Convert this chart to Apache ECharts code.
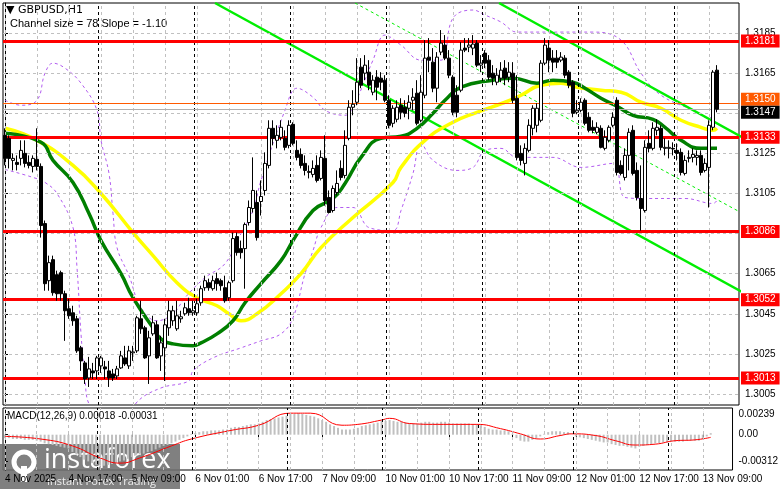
<!DOCTYPE html>
<html><head><meta charset="utf-8">
<script src="https://cdn.jsdelivr.net/npm/echarts@6/dist/echarts.min.js"></script>
<style>html,body{margin:0;padding:0;background:#fff}#c{width:781px;height:489px}</style>
</head><body><div id="c"></div>
<script>
const tickLabels = ["4 Nov 2025","4 Nov 17:00","5 Nov 09:00","6 Nov 01:00","6 Nov 17:00","7 Nov 09:00","10 Nov 01:00","10 Nov 17:00","11 Nov 09:00","12 Nov 01:00","12 Nov 17:00","13 Nov 09:00"];
const priceTicks = [1.3005,1.3025,1.3045,1.3065,1.3085,1.3105,1.3125,1.3145,1.3165,1.3185];
const macdTicks = [0.00239, 0, -0.00312];
const levels = [1.3181,1.3133,1.3086,1.3052,1.3013];
const orangeLevel = 1.3150;
const lastPrice = 1.3147;
// [open, close, low, high]
const candles = [
[1.3134,1.31225,1.3119,1.31375],[1.31325,1.31225,1.31175,1.3134],[1.31215,1.31225,1.31165,1.3125],[1.31205,1.31195,1.31165,1.3124],
[1.31225,1.31265,1.3119,1.31315],[1.3125,1.312,1.3118,1.31315],[1.31205,1.3119,1.31175,1.3124],[1.31185,1.31225,1.31155,1.3124],
[1.3122,1.31185,1.31165,1.31375],[1.31185,1.3089,1.3083,1.312],[1.309,1.306,1.30565,1.30915],[1.30615,1.30705,1.30565,1.3074],
[1.3072,1.30555,1.3054,1.3074],[1.30645,1.3055,1.30515,1.30665],[1.30655,1.3055,1.30515,1.30665],[1.3055,1.30465,1.30315,1.30565],
[1.30475,1.3044,1.30425,1.30525],[1.30455,1.30415,1.3039,1.3049],[1.30425,1.30265,1.30255,1.3044],[1.3028,1.30215,1.30165,1.3029],
[1.30205,1.30125,1.301,1.30215],[1.3013,1.30175,1.30085,1.30235],[1.30165,1.30155,1.30125,1.30205],[1.30165,1.3023,1.30125,1.3024],
[1.3019,1.3023,1.30155,1.3024],[1.30185,1.30175,1.30125,1.30215],[1.30165,1.3013,1.30085,1.30215],[1.3015,1.3013,1.30115,1.30175],
[1.3014,1.30175,1.30125,1.3019],[1.3018,1.3024,1.30175,1.30265],[1.3023,1.302,1.3019,1.3029],[1.3019,1.30265,1.30175,1.3029],
[1.30255,1.3026,1.30215,1.3029],[1.30265,1.3043,1.30255,1.3044],[1.30425,1.30375,1.3035,1.30515],[1.3038,1.3023,1.30225,1.3039],
[1.3024,1.3033,1.301,1.30365],[1.3035,1.30405,1.3034,1.3044],[1.30395,1.3023,1.30225,1.30415],[1.3024,1.30305,1.30165,1.3034],
[1.3028,1.30395,1.30115,1.30425],[1.3038,1.30465,1.3034,1.30515],[1.30415,1.30465,1.3039,1.3049],[1.30375,1.3044,1.30365,1.30515],
[1.30425,1.30435,1.30405,1.30465],[1.3045,1.3048,1.3044,1.30505],[1.30475,1.30455,1.3044,1.3053],[1.30455,1.30465,1.3044,1.30515],
[1.30455,1.305,1.3044,1.30525],[1.30505,1.30575,1.3049,1.3059],[1.3058,1.30615,1.30565,1.3064],[1.30605,1.3058,1.30565,1.30625],
[1.30575,1.30615,1.30565,1.3064],[1.30625,1.306,1.30565,1.30655],[1.30615,1.3059,1.30565,1.30625],[1.3058,1.30515,1.30505,1.3064],
[1.3053,1.30605,1.30515,1.30615],[1.30615,1.30825,1.30605,1.30855],[1.30835,1.30755,1.3074,1.30855],[1.30775,1.30755,1.30725,1.30815],
[1.30775,1.30895,1.30575,1.30905],[1.30905,1.3098,1.3089,1.31015],[1.30975,1.31065,1.30955,1.3123],[1.31005,1.3083,1.30815,1.31065],
[1.3101,1.31035,1.3094,1.31115],[1.31065,1.312,1.3104,1.31255],[1.3119,1.31375,1.31175,1.31415],[1.31375,1.31325,1.3129,1.31415],
[1.31315,1.3134,1.31275,1.3139],[1.3133,1.3138,1.31315,1.31415],[1.31325,1.3128,1.31265,1.31365],[1.3129,1.3139,1.31275,1.31415],
[1.31395,1.313,1.3129,1.31405],[1.31265,1.3123,1.31215,1.31315],[1.31245,1.3119,1.31175,1.31275],[1.312,1.31165,1.3114,1.3124],
[1.31155,1.3116,1.31125,1.3119],[1.31145,1.31175,1.3113,1.31215],[1.3119,1.31115,1.31105,1.3124],[1.31125,1.3123,1.31115,1.31265],
[1.31225,1.31015,1.3099,1.3134],[1.3103,1.30955,1.3095,1.31065],[1.30965,1.31075,1.30955,1.3109],[1.31055,1.311,1.3104,1.31165],
[1.31175,1.3113,1.31115,1.31215],[1.3114,1.3129,1.31125,1.31365],[1.31325,1.3148,1.31315,1.31515],[1.3148,1.31495,1.3144,1.31565],
[1.31505,1.31605,1.3149,1.31725],[1.3168,1.3159,1.31575,1.31725],[1.3165,1.3169,1.31615,1.3174],[1.31655,1.3159,1.31565,1.31715],
[1.31555,1.31615,1.3154,1.3164],[1.3163,1.3158,1.31515,1.31665],[1.31625,1.31605,1.31565,1.31655],[1.31615,1.31515,1.31505,1.3164],
[1.31515,1.3139,1.31375,1.3154],[1.314,1.31475,1.3138,1.3149],[1.3142,1.3148,1.31405,1.31515],[1.3149,1.31455,1.3142,1.31525],
[1.3148,1.3145,1.3143,1.31515],[1.31475,1.31505,1.3142,1.3154],[1.31515,1.3153,1.31465,1.31575],[1.3155,1.314,1.3139,1.31615],
[1.31415,1.31555,1.31405,1.3164],[1.3154,1.31725,1.31525,1.31815],[1.3173,1.31715,1.31655,1.31825],[1.31705,1.31575,1.31555,1.31775],
[1.31575,1.3173,1.31505,1.31755],[1.31755,1.318,1.3174,1.31865],[1.3179,1.31725,1.31715,1.3184],[1.31725,1.3164,1.31625,1.31765],
[1.3163,1.31455,1.3144,1.3164],[1.3154,1.31455,1.3143,1.3159],[1.31565,1.31765,1.31555,1.31805],[1.31775,1.31765,1.31755,1.31825],
[1.3178,1.3179,1.31755,1.31825],[1.31775,1.31795,1.3174,1.3184],[1.318,1.3169,1.3168,1.31815],[1.3169,1.317,1.31655,1.3174],
[1.3175,1.317,1.31675,1.31765],[1.31715,1.3163,1.31615,1.3174],[1.3165,1.31625,1.3159,1.3169],[1.31605,1.3164,1.3159,1.31675],
[1.31625,1.31665,1.31605,1.31705],[1.31675,1.31625,1.3159,1.31715],[1.3163,1.31655,1.31605,1.31705],[1.3165,1.31515,1.315,1.31705],
[1.31525,1.3123,1.31215,1.3164],[1.3125,1.31215,1.3119,1.3129],[1.312,1.31275,1.3114,1.313],[1.31265,1.3139,1.31255,1.3142],
[1.31375,1.31475,1.3134,1.3149],[1.3139,1.31475,1.31355,1.315],[1.31415,1.317,1.31405,1.31715],[1.317,1.3179,1.3169,1.31825],
[1.31775,1.31715,1.31655,1.31815],[1.31725,1.31705,1.31655,1.31765],[1.31725,1.31705,1.31675,1.31765],[1.31715,1.3173,1.31705,1.31755],
[1.31725,1.3164,1.31625,1.3174],[1.31655,1.3159,1.31575,1.31665],[1.31605,1.3145,1.3143,1.31615],[1.31455,1.31465,1.31445,1.31515],
[1.31465,1.31505,1.31455,1.31525],[1.31515,1.314,1.3139,1.31525],[1.3143,1.31365,1.31355,1.31455],[1.3138,1.31365,1.3135,1.31415],
[1.31355,1.3138,1.31345,1.31405],[1.31375,1.3128,1.31275,1.3139],[1.31275,1.3133,1.31265,1.31365],[1.31315,1.3138,1.31305,1.3139],
[1.3139,1.3143,1.3138,1.31455],[1.31515,1.31155,1.3114,1.3153],[1.3119,1.3115,1.3114,1.31215],[1.3113,1.3124,1.31115,1.31275],
[1.3124,1.31355,1.31165,1.31375],[1.31365,1.3115,1.3114,1.3139],[1.31165,1.3103,1.31015,1.31205],[1.31025,1.30975,1.30865,1.3119],
[1.30965,1.3128,1.30955,1.31315],[1.313,1.31275,1.31255,1.31365],[1.31275,1.31375,1.31265,1.31405],[1.31365,1.3138,1.3134,1.3142],
[1.31375,1.3128,1.31265,1.3139],[1.31275,1.3128,1.3124,1.31325],[1.31275,1.3128,1.31225,1.31315],[1.31275,1.31272,1.3124,1.31305],
[1.31265,1.3125,1.31215,1.313],[1.31255,1.31155,1.3114,1.31275],[1.3115,1.31215,1.3114,1.3124],[1.31225,1.3123,1.31205,1.31265],
[1.3123,1.31245,1.31205,1.31275],[1.3123,1.3124,1.3119,1.31265],[1.3124,1.31155,1.3114,1.31265],[1.31165,1.312,1.31155,1.31225],
[1.3118,1.3139,1.3098,1.31415],[1.3138,1.31655,1.31365,1.31665],[1.31665,1.3147,1.31455,1.3169]
];
// moving averages and envelopes: [bar index, price]
const maYellow = [[0,1.31375],[8,1.31315],[17,1.3119],[24,1.3105],[32,1.30855],[37,1.3074],[43,1.30605],[48,1.3053],[53,1.3049],[56,1.3045],[59,1.30415],[63,1.3045],[69,1.3055],[74,1.3065],[79,1.3078],[87,1.3093],[97,1.31105],[99,1.3118],[105,1.31315],[112,1.31405],[118,1.31455],[125,1.31505],[129,1.3154],[134,1.3159],[139,1.316],[143,1.3158],[149,1.31565],[154,1.31555],[159,1.31505],[164,1.31475],[169,1.31415],[174,1.3138],[177,1.31365],[178,1.31375]];
const maGreen = [[0,1.3135],[9,1.31305],[12,1.31215],[17,1.31105],[21,1.3095],[24,1.30815],[29,1.3065],[32,1.3053],[37,1.3038],[39,1.30325],[42,1.303],[47,1.3029],[49,1.30305],[53,1.3035],[57,1.30415],[60,1.30505],[64,1.306],[69,1.30715],[72,1.30815],[77,1.30965],[82,1.31025],[85,1.311],[89,1.3123],[94,1.31325],[99,1.31335],[103,1.31375],[107,1.3145],[110,1.31515],[114,1.3158],[122,1.31615],[127,1.31625],[133,1.316],[137,1.31615],[142,1.31605],[145,1.31575],[149,1.31525],[153,1.31485],[157,1.3144],[162,1.3142],[165,1.3138],[169,1.31315],[174,1.31275],[178,1.31275]];
const bandUpper = [[0,1.31515],[4,1.3149],[8,1.31515],[10,1.3165],[12,1.317],[15,1.31675],[19,1.316],[23,1.31465],[24,1.31315],[26,1.3115],[27,1.3095],[28,1.3078],[31,1.3064],[34,1.3048],[38,1.30415],[42,1.3045],[45,1.3053],[50,1.3063],[55,1.307],[59,1.3085],[62,1.30965],[64,1.31115],[70,1.31465],[73,1.31575],[77,1.3153],[80,1.31465],[85,1.3144],[87,1.3148],[92,1.31715],[95,1.3184],[99,1.3179],[104,1.31715],[109,1.31715],[112,1.31925],[117,1.31965],[120,1.3194],[124,1.31905],[128,1.31855],[134,1.31855],[139,1.31855],[147,1.31855],[154,1.31815],[159,1.3165],[164,1.3154],[172,1.31465],[176,1.31425],[178,1.31505]];
const bandLower = [[0,1.3117],[7,1.3113],[10,1.31105],[13,1.3105],[17,1.3088],[18,1.3068],[19,1.3035],[20,1.3013],[21,1.3],[26,1.299],[31,1.2992],[33,1.3001],[39,1.3008],[46,1.30115],[47,1.30165],[52,1.3023],[59,1.3028],[64,1.30315],[69,1.3035],[72,1.3043],[75,1.3065],[77,1.30765],[79,1.3088],[83,1.3098],[87,1.3098],[91,1.3088],[97,1.30865],[99,1.30965],[102,1.3115],[104,1.313],[107,1.31215],[113,1.31165],[117,1.3118],[120,1.31265],[124,1.31275],[128,1.3123],[137,1.3123],[144,1.3118],[152,1.312],[155,1.3103],[160,1.31025],[170,1.31025],[177,1.31],[178,1.31015]];
const channelLower = [[52.5,1.32],[184.25,1.30559]];
const channelUpper = [[123.5,1.32],[184.25,1.31331]];
const channelMid = [[87.5,1.32],[184.25,1.30952]];
const macdMain = [
-0.0004,-0.0004,-0.0005,-0.0005,-0.0005,-0.0006,-0.0006,-0.0006,-0.0007,-0.0008,
-0.0010,-0.0011,-0.0012,-0.0013,-0.0014,-0.0015,-0.0016,-0.0020,-0.0023,-0.0026,
-0.0029,-0.0031,-0.0033,-0.0035,-0.0036,-0.0036,-0.0035,-0.0034,-0.0033,-0.0031,
-0.0030,-0.0028,-0.0026,-0.0024,-0.0023,-0.0022,-0.0020,-0.0019,-0.0017,-0.0015,
-0.0013,-0.0012,-0.0010,-0.0008,-0.0006,-0.0004,-0.0002,0.0001,0.0002,0.0003,
0.0004,0.0004,0.0005,0.0005,0.0005,0.0006,0.0006,0.0008,0.0009,0.0009,
0.0010,0.0011,0.0012,0.0012,0.0013,0.0015,0.0017,0.0018,0.0019,0.0020,
0.0021,0.0022,0.0024,0.0024,0.0025,0.0024,0.0023,0.0022,0.0021,0.0019,
0.0017,0.0015,0.0012,0.0010,0.0008,0.0006,0.0006,0.0006,0.0007,0.0008,
0.0010,0.0011,0.0012,0.0013,0.0014,0.0016,0.0016,0.0017,0.0016,0.0015,
0.0015,0.0014,0.0013,0.0013,0.0013,0.0014,0.0015,0.0015,0.0014,0.0014,
0.0015,0.0015,0.0014,0.0013,0.0013,0.0013,0.0013,0.0013,0.0012,0.0012,
0.0011,0.0009,0.0007,0.0006,0.0006,0.0005,0.0005,0.0004,0.0001,-0.0004,
-0.0007,-0.0008,-0.0008,-0.0006,-0.0004,-0.0002,0.0001,0.0003,0.0004,0.0004,
0.0004,0.0003,0.0003,0.0000,-0.0002,-0.0003,-0.0004,-0.0005,-0.0006,-0.0007,
-0.0008,-0.0009,-0.0009,-0.0011,-0.0012,-0.0013,-0.0013,-0.0014,-0.0015,-0.0016,
-0.0014,-0.0013,-0.0012,-0.0011,-0.0010,-0.0010,-0.0009,-0.0009,-0.0008,-0.0008,
-0.0008,-0.0008,-0.0007,-0.0007,-0.0007,-0.0007,-0.0005,-0.0002,0.00018];
const macdSignal = [[0,-0.0002],[9,-0.0005],[17,-0.0013],[24,-0.0027],[29,-0.0033],[34,-0.0027],[42,-0.0013],[47,-0.0005],[57,0.0005],[64,0.0011],[72,0.0025],[77,0.0025],[85,0.0011],[89,0.0012],[95,0.0017],[97,0.0019],[102,0.0013],[109,0.0012],[119,0.0012],[125,0.0007],[130,0.0001],[135,-0.0005],[140,-0.0001],[143,0.0001],[149,-0.0001],[154,-0.0007],[159,-0.0012],[164,-0.0011],[169,-0.0007],[174,-0.0006],[178,-0.00031]];
const daySeparators = [23.25,47.25,71.25,95.25,119.25,143.25,167.25];

const NSLOT = 184;
const cats = []; for (let i = 0; i < NSLOT; i++) cats.push(String(i));
const gridVerts = []; for (let i = 0; i < NSLOT; i += 8) gridVerts.push(i);
const FONT = 'Liberation Sans';

const chart = echarts.init(document.getElementById('c'), null, {renderer:'canvas'});
const dashedGray = {color:'#c0c0c0', type:[3,3], width:1};
const blackDash = {color:'#000', type:[3,3], width:1};
function vLines(list, style){ return list.map(v => ({xAxis:v, lineStyle:style})); }
function priceLabel(v, bg, off){ return {show:true, position:'end', formatter:v.toFixed(4), color:'#fff', backgroundColor:bg, padding:[2,4,1,4], fontFamily:FONT, fontSize:10, distance:2, offset:off||[0,0]}; }

const levelLines = levels.map(v => ({yAxis:v, lineStyle:{color:'#ff0000', width:3, type:'solid'}, label:priceLabel(v,'#ff0000')}));

chart.setOption({
  animation:false,
  grid:[
    {left:3, right:42, top:3, height:402, show:true, borderColor:'#000', borderWidth:1, backgroundColor:'#fff'},
    {left:3, right:42, top:408, height:62, show:true, borderColor:'#000', borderWidth:1, backgroundColor:'#fff'}
  ],
  xAxis:[
    {type:'category', gridIndex:0, data:cats, show:false, boundaryGap:true},
    {type:'category', gridIndex:1, data:cats, boundaryGap:true,
      axisLine:{show:false},
      axisTick:{show:true, interval:(i)=> i%16===0 && i<=176, length:4, lineStyle:{color:'#000'}, alignWithLabel:true},
      axisLabel:{interval:(i)=> i%16===0 && i<=176, formatter:(v,i)=> tickLabels[i/16] || '', align:'left', color:'#000', fontFamily:FONT, fontSize:10, margin:4}},
    {type:'value', gridIndex:0, min:-0.5, max:183.5, show:false},
    {type:'value', gridIndex:1, min:-0.5, max:183.5, show:false}
  ],
  yAxis:[
    {type:'value', gridIndex:0, position:'right', min:1.29995, max:1.32,
      axisLine:{show:true, lineStyle:{color:'#000'}}, splitLine:{show:false},
      axisTick:{show:true, customValues:priceTicks, length:3, lineStyle:{color:'#000'}},
      axisLabel:{customValues:priceTicks, formatter:v=>v.toFixed(4), color:'#000', fontFamily:FONT, fontSize:10, margin:6}},
    {type:'value', gridIndex:1, position:'right', min:-0.0041, max:0.0031,
      axisLine:{show:true, lineStyle:{color:'#000'}}, splitLine:{show:false},
      axisTick:{show:true, customValues:macdTicks, length:3, lineStyle:{color:'#000'}},
      axisLabel:{customValues:macdTicks, formatter:v=> v===0 ? '0.00' : v.toFixed(5), color:'#000', fontFamily:FONT, fontSize:10, margin:6}}
  ],
  series:[
    {type:'line', xAxisIndex:2, yAxisIndex:0, data:[], silent:true,
      markLine:{silent:true, symbol:'none', precision:6, label:{show:false}, animation:false,
        data:[...vLines(gridVerts, dashedGray), ...priceTicks.map(v=>({yAxis:v, lineStyle:dashedGray})), ...vLines(daySeparators, blackDash)]}},
    {type:'line', xAxisIndex:3, yAxisIndex:1, data:[], silent:true,
      markLine:{silent:true, symbol:'none', precision:6, label:{show:false}, animation:false,
        data:[...vLines(gridVerts, dashedGray), ...vLines(daySeparators, blackDash)]}},
    {type:'line', xAxisIndex:2, yAxisIndex:0, data:bandUpper, smooth:0.4, symbol:'none', lineStyle:{color:'#b25cf0', width:1, type:[3,3]}},
    {type:'line', xAxisIndex:2, yAxisIndex:0, data:bandLower, smooth:0.4, symbol:'none', lineStyle:{color:'#b25cf0', width:1, type:[3,3]}},
    {type:'line', xAxisIndex:2, yAxisIndex:0, data:channelMid, symbol:'none', lineStyle:{color:'#00ee00', width:1, type:[3,3]}},
    {type:'line', xAxisIndex:2, yAxisIndex:0, data:channelLower, symbol:'none', lineStyle:{color:'#00ee00', width:2.5}},
    {type:'line', xAxisIndex:2, yAxisIndex:0, data:channelUpper, symbol:'none', lineStyle:{color:'#00ee00', width:2.5}},
    {type:'line', xAxisIndex:2, yAxisIndex:0, data:maYellow, smooth:0.5, symbol:'none', lineStyle:{color:'#ffff00', width:3.5}},
    {type:'line', xAxisIndex:2, yAxisIndex:0, data:maGreen, smooth:0.5, symbol:'none', lineStyle:{color:'#007f00', width:3.5}},
    {type:'line', xAxisIndex:2, yAxisIndex:0, data:[], silent:true, z:4,
      markLine:{silent:true, symbol:'none', precision:6, animation:false,
        data:[...levelLines,
          {yAxis:orangeLevel, lineStyle:{color:'#ff5a00', width:1, type:'solid'}, label:priceLabel(orangeLevel,'#ff5a00',[0,-4])},
          {yAxis:lastPrice, lineStyle:{color:'#b0b0b0', width:1, type:'solid'}, label:priceLabel(lastPrice,'#000',[0,3])}
        ]}},
    {type:'candlestick', xAxisIndex:0, yAxisIndex:0, data:candles, barWidth:3, z:5,
      itemStyle:{color:'#fff', color0:'#000', borderColor:'#000', borderColor0:'#000', borderWidth:1}},
    {type:'bar', xAxisIndex:1, yAxisIndex:1, data:macdMain, barWidth:2, itemStyle:{color:'#c0c0c0'}, silent:true},
    {type:'line', xAxisIndex:3, yAxisIndex:1, data:macdSignal, smooth:0.5, symbol:'none', lineStyle:{color:'#ff0000', width:1}}
  ],
  graphic:[
    {type:'text', left:6, top:5, style:{text:'▼ GBPUSD,H1', font:'11px "DejaVu Sans"', fill:'#000'}},
    {type:'text', left:10, top:18, style:{text:'Channel size = 78 Slope = -1.10', font:'11px "Liberation Sans"', fill:'#000'}},
    {type:'text', left:7, top:411, style:{text:'MACD(12,26,9) 0.00018 -0.00031', font:'10px "Liberation Sans"', fill:'#000'}},
    {type:'rect', left:0, top:444, shape:{width:180, height:45}, style:{fill:'rgba(110,110,110,0.88)'}},
    {type:'circle', shape:{cx:24, cy:462, r:10}, style:{fill:'none', stroke:'#fff', lineWidth:5}},
    {type:'rect', shape:{x:21, y:466, width:6, height:16}, style:{fill:'#fff'}},
    {type:'text', left:44, top:447, style:{text:'instaforex', font:'27px "Open Sans"', fill:'#fff'}},
    {type:'text', left:47, top:476, style:{text:'Instant Forex Trading', font:'11px "Open Sans"', fill:'#eee'}}
  ]
});
</script></body></html>
